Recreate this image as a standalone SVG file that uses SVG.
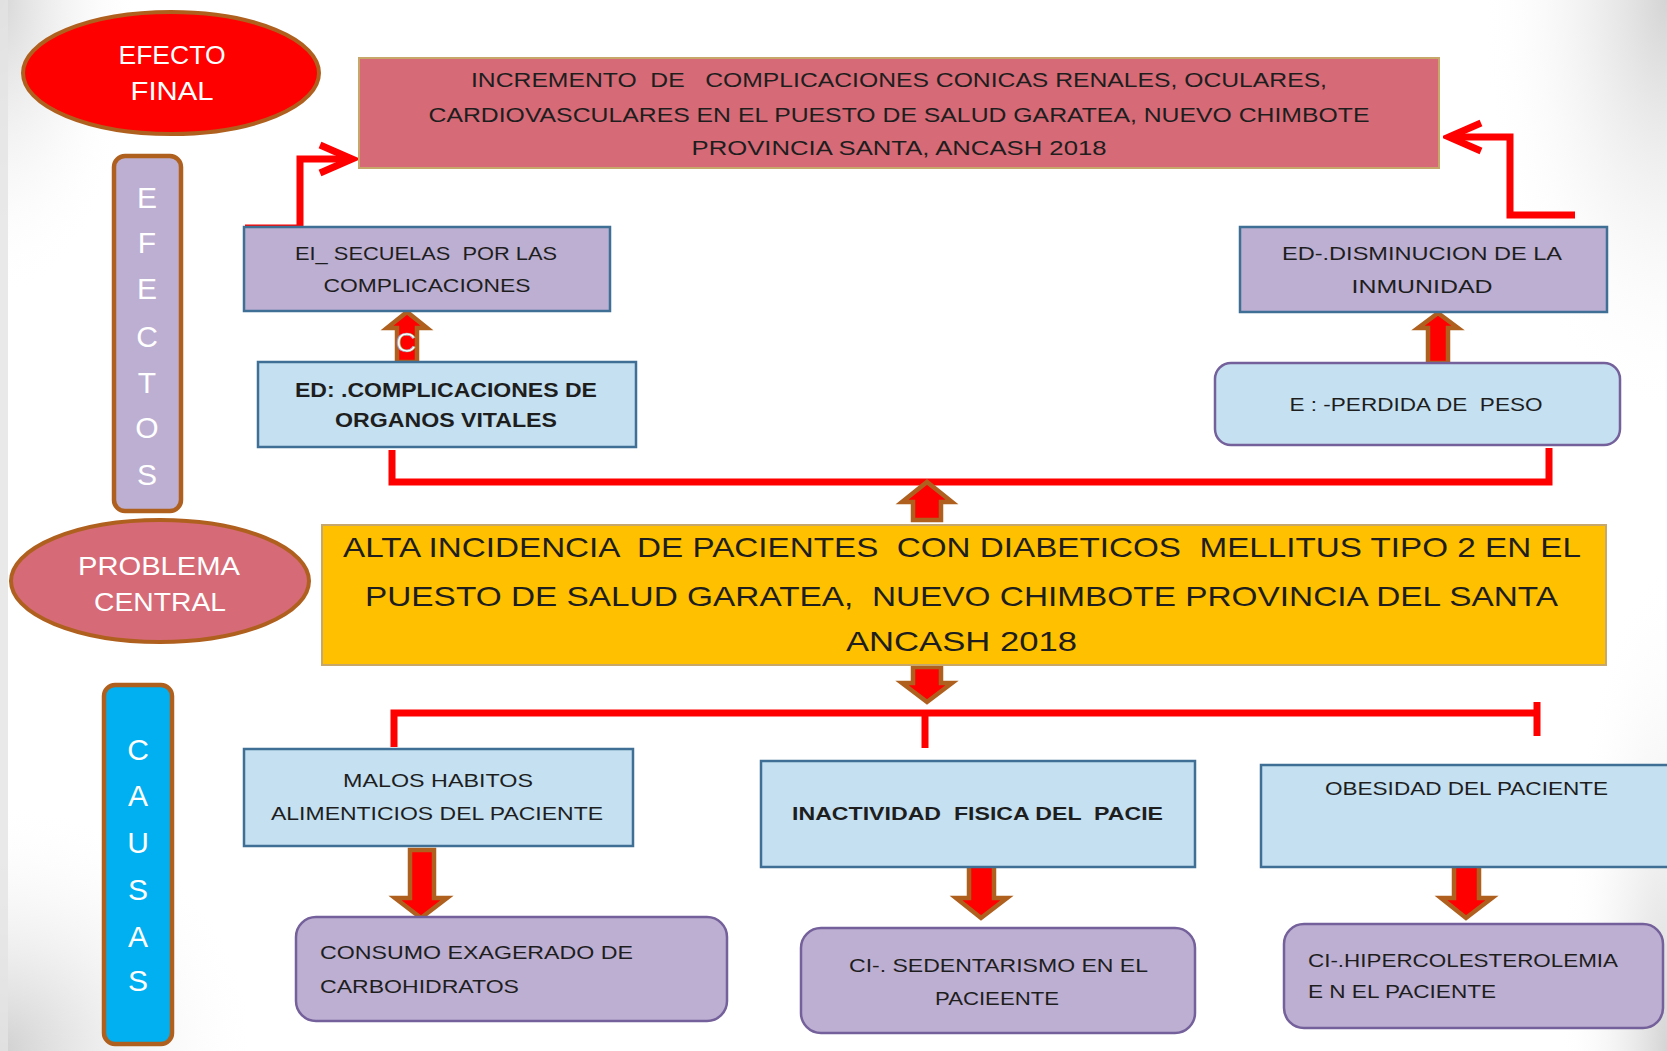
<svg xmlns="http://www.w3.org/2000/svg" width="1667" height="1051" viewBox="0 0 1667 1051">
<defs>
<radialGradient id="gTL" cx="0" cy="0" r="1" gradientUnits="objectBoundingBox"><stop offset="0" stop-color="#d6d6d6"/><stop offset="1" stop-color="#ffffff" stop-opacity="0"/></radialGradient>
<radialGradient id="gBL" cx="0" cy="1" r="1"><stop offset="0" stop-color="#d0d0d0"/><stop offset="1" stop-color="#ffffff" stop-opacity="0"/></radialGradient>
<radialGradient id="gTR" cx="1" cy="0" r="1"><stop offset="0" stop-color="#d4d4d4"/><stop offset="1" stop-color="#ffffff" stop-opacity="0"/></radialGradient>
<radialGradient id="gBR" cx="1" cy="1" r="1"><stop offset="0" stop-color="#d4d4d4"/><stop offset="1" stop-color="#ffffff" stop-opacity="0"/></radialGradient>
<marker id="chev" viewBox="-40 -20 46 40" markerWidth="46" markerHeight="40" refX="0" refY="0" markerUnits="userSpaceOnUse" orient="auto">
<path d="M -32 -14 L 0 0 L -32 14" fill="none" stroke="#FF0000" stroke-width="7" stroke-linejoin="miter"/>
</marker>
<style>
.t{font-family:"Liberation Sans",Arial,sans-serif;fill:#1e1e1e;white-space:pre}
.w{font-family:"Liberation Sans",Arial,sans-serif;fill:#ffffff;white-space:pre}
.b{font-weight:bold}
.lav{fill:#BDAFD2;stroke:#3F6F95;stroke-width:2.5}
.blu{fill:#C4E0F1;stroke:#3F6F95;stroke-width:2.5}
.rlav{fill:#BDAFD2;stroke:#74609A;stroke-width:2.5}
.rblu{fill:#C4E0F1;stroke:#74609A;stroke-width:2.5}
.ell{stroke:#B0601E;stroke-width:4}
.bar{stroke:#B0601E;stroke-width:4.5}
.red{fill:none;stroke:#FF0000;stroke-width:7}
.blk{fill:#FF0000;stroke:#B0601E;stroke-width:4.5;stroke-linejoin:miter}
</style>
</defs>
<rect x="0" y="0" width="1667" height="1051" fill="#ffffff"/>
<rect x="0" y="0" width="140" height="300" fill="url(#gTL)"/>
<rect x="0" y="800" width="260" height="251" fill="url(#gBL)"/>
<rect x="1480" y="0" width="187" height="420" fill="url(#gTR)"/>
<rect x="1560" y="560" width="107" height="491" fill="url(#gBR)"/>
<rect x="0" y="0" width="8" height="1051" fill="#e4e4e4" opacity="0.8"/>

<g id="connectors">
<polyline class="red" points="245,228 300,228 300,159 352,159" marker-end="url(#chev)"/>
<polyline class="red" points="1575,215 1510,215 1510,137 1449,137" marker-end="url(#chev)"/>
<polyline class="red" points="392,450 392,482 1549,482 1549,448"/>
<polyline class="red" points="394,747 394,713 1537,713"/>
<line class="red" x1="925" y1="713" x2="925" y2="748"/>
<line class="red" x1="1537" y1="702" x2="1537" y2="736"/>
<path class="blk" d="M397,362 L397,328 L387,328 L407,312 L427,328 L417,328 L417,362 Z"/>
<path class="blk" d="M1428,363 L1428,328 L1418,328 L1438,313 L1458,328 L1448,328 L1448,363 Z"/>
<path class="blk" d="M913,520 L913,502 L902,502 L927,482 L952,502 L941,502 L941,520 Z"/>
<path class="blk" d="M913,667 L913,683 L902,683 L927,702 L952,683 L941,683 L941,667 Z"/>
<path class="blk" d="M410,850 L410,898 L395,898 L421,918 L447,898 L434,898 L434,850 Z"/>
<path class="blk" d="M969,849 L969,898 L956,898 L981,918 L1007,898 L994,898 L994,849 Z"/>
<path class="blk" d="M1454,849 L1454,898 L1441,898 L1466,918 L1492,898 L1479,898 L1479,849 Z"/>
</g>

<g id="efecto-final">
<ellipse class="ell" cx="171" cy="73" rx="148" ry="61" fill="#FF0000"/>
<text class="w" x="172" y="64" font-size="25" text-anchor="middle" textLength="107" lengthAdjust="spacingAndGlyphs">EFECTO</text>
<text class="w" x="172" y="100" font-size="25" text-anchor="middle" textLength="83" lengthAdjust="spacingAndGlyphs">FINAL</text>
</g>

<g id="efecto-principal">
<rect x="359" y="58" width="1080" height="110" fill="#D76A77" stroke="#C8A76A" stroke-width="2"/>
<text class="t" x="899" y="87" font-size="20" text-anchor="middle" textLength="856" lengthAdjust="spacingAndGlyphs">INCREMENTO  DE   COMPLICACIONES CONICAS RENALES, OCULARES,</text>
<text class="t" x="899" y="122" font-size="20" text-anchor="middle" textLength="941" lengthAdjust="spacingAndGlyphs">CARDIOVASCULARES EN EL PUESTO DE SALUD GARATEA, NUEVO CHIMBOTE</text>
<text class="t" x="899" y="155" font-size="20" text-anchor="middle" textLength="415" lengthAdjust="spacingAndGlyphs">PROVINCIA SANTA, ANCASH 2018</text>
</g>

<g id="efectos-label">
<rect x="114" y="156" width="67" height="355" rx="11" fill="#BDAFD2" class="bar"/>
<text class="w" x="147" font-size="30" text-anchor="middle"><tspan x="147" y="208">E</tspan><tspan x="147" y="253">F</tspan><tspan x="147" y="299">E</tspan><tspan x="147" y="347">C</tspan><tspan x="147" y="393">T</tspan><tspan x="147" y="438">O</tspan><tspan x="147" y="485">S</tspan></text>
</g>

<g id="ei-secuelas">
<rect class="lav" x="244" y="227" width="366" height="84"/>
<text class="t" x="426" y="260" font-size="18" text-anchor="middle" textLength="262" lengthAdjust="spacingAndGlyphs">EI_ SECUELAS  POR LAS</text>
<text class="t" x="427" y="292" font-size="18" text-anchor="middle" textLength="207" lengthAdjust="spacingAndGlyphs">COMPLICACIONES</text>
</g>

<g id="stray-c">
<text x="396" y="352" font-family="Liberation Sans, Arial, sans-serif" font-size="28" fill="#ffffff" stroke="#9a9a9a" stroke-width="0.6">C</text>
</g>

<g id="ed-complicaciones">
<rect class="blu" x="258" y="362" width="378" height="85"/>
<text class="t b" x="446" y="397" font-size="20" text-anchor="middle" textLength="302" lengthAdjust="spacingAndGlyphs">ED: .COMPLICACIONES DE</text>
<text class="t b" x="446" y="427" font-size="20" text-anchor="middle" textLength="222" lengthAdjust="spacingAndGlyphs">ORGANOS VITALES</text>
</g>

<g id="ed-disminucion">
<rect class="lav" x="1240" y="227" width="367" height="85"/>
<text class="t" x="1422" y="260" font-size="18" text-anchor="middle" textLength="280" lengthAdjust="spacingAndGlyphs">ED-.DISMINUCION DE LA</text>
<text class="t" x="1422" y="293" font-size="18" text-anchor="middle" textLength="141" lengthAdjust="spacingAndGlyphs">INMUNIDAD</text>
</g>

<g id="perdida-peso">
<rect class="rblu" x="1215" y="363" width="405" height="82" rx="16"/>
<text class="t" x="1416" y="411" font-size="18" text-anchor="middle" textLength="253" lengthAdjust="spacingAndGlyphs">E : -PERDIDA DE  PESO</text>
</g>

<g id="problema-label">
<ellipse class="ell" cx="160" cy="581" rx="149" ry="61" fill="#D76A77"/>
<text class="w" x="159" y="575" font-size="25" text-anchor="middle" textLength="162" lengthAdjust="spacingAndGlyphs">PROBLEMA</text>
<text class="w" x="160" y="611" font-size="25" text-anchor="middle" textLength="132" lengthAdjust="spacingAndGlyphs">CENTRAL</text>
</g>

<g id="problema-central">
<rect x="322" y="525" width="1284" height="140" fill="#FFC000" stroke="#C8A76A" stroke-width="2"/>
<text class="t" x="343" y="557" font-size="28" textLength="1238" lengthAdjust="spacingAndGlyphs">ALTA INCIDENCIA  DE PACIENTES  CON DIABETICOS  MELLITUS TIPO 2 EN EL</text>
<text class="t" x="365" y="606" font-size="28" textLength="1193" lengthAdjust="spacingAndGlyphs">PUESTO DE SALUD GARATEA,  NUEVO CHIMBOTE PROVINCIA DEL SANTA</text>
<text class="t" x="846" y="651" font-size="28" textLength="231" lengthAdjust="spacingAndGlyphs">ANCASH 2018</text>
</g>

<g id="causas-label">
<rect x="104" y="685" width="68" height="359" rx="11" fill="#00B0F0" class="bar"/>
<text class="w" font-size="30" text-anchor="middle"><tspan x="138" y="760">C</tspan><tspan x="138" y="806">A</tspan><tspan x="138" y="853">U</tspan><tspan x="138" y="900">S</tspan><tspan x="138" y="947">A</tspan><tspan x="138" y="991">S</tspan></text>
</g>

<g id="malos-habitos">
<rect class="blu" x="244" y="749" width="389" height="97"/>
<text class="t" x="438" y="787" font-size="19" text-anchor="middle" textLength="190" lengthAdjust="spacingAndGlyphs">MALOS HABITOS</text>
<text class="t" x="437" y="820" font-size="19" text-anchor="middle" textLength="332" lengthAdjust="spacingAndGlyphs">ALIMENTICIOS DEL PACIENTE</text>
</g>

<g id="inactividad">
<rect class="blu" x="761" y="761" width="434" height="106"/>
<text class="t b" x="792" y="820" font-size="18" textLength="371" lengthAdjust="spacingAndGlyphs">INACTIVIDAD  FISICA DEL  PACIE</text>
</g>

<g id="obesidad">
<rect class="blu" x="1261" y="765" width="420" height="102"/>
<text class="t" x="1325" y="795" font-size="18" textLength="283" lengthAdjust="spacingAndGlyphs">OBESIDAD DEL PACIENTE</text>
</g>

<g id="consumo">
<rect class="rlav" x="296" y="917" width="431" height="104" rx="20"/>
<text class="t" x="320" y="959" font-size="18" textLength="313" lengthAdjust="spacingAndGlyphs">CONSUMO EXAGERADO DE</text>
<text class="t" x="320" y="993" font-size="18" textLength="199" lengthAdjust="spacingAndGlyphs">CARBOHIDRATOS</text>
</g>

<g id="sedentarismo">
<rect class="rlav" x="801" y="928" width="394" height="105" rx="20"/>
<text class="t" x="849" y="972" font-size="18" textLength="299" lengthAdjust="spacingAndGlyphs">CI-. SEDENTARISMO EN EL</text>
<text class="t" x="935" y="1005" font-size="18" textLength="124" lengthAdjust="spacingAndGlyphs">PACIEENTE</text>
</g>

<g id="hipercolesterolemia">
<rect class="rlav" x="1284" y="924" width="379" height="104" rx="20"/>
<text class="t" x="1308" y="967" font-size="18" textLength="310" lengthAdjust="spacingAndGlyphs">CI-.HIPERCOLESTEROLEMIA</text>
<text class="t" x="1308" y="998" font-size="18" textLength="188" lengthAdjust="spacingAndGlyphs">E N EL PACIENTE</text>
</g>
</svg>
